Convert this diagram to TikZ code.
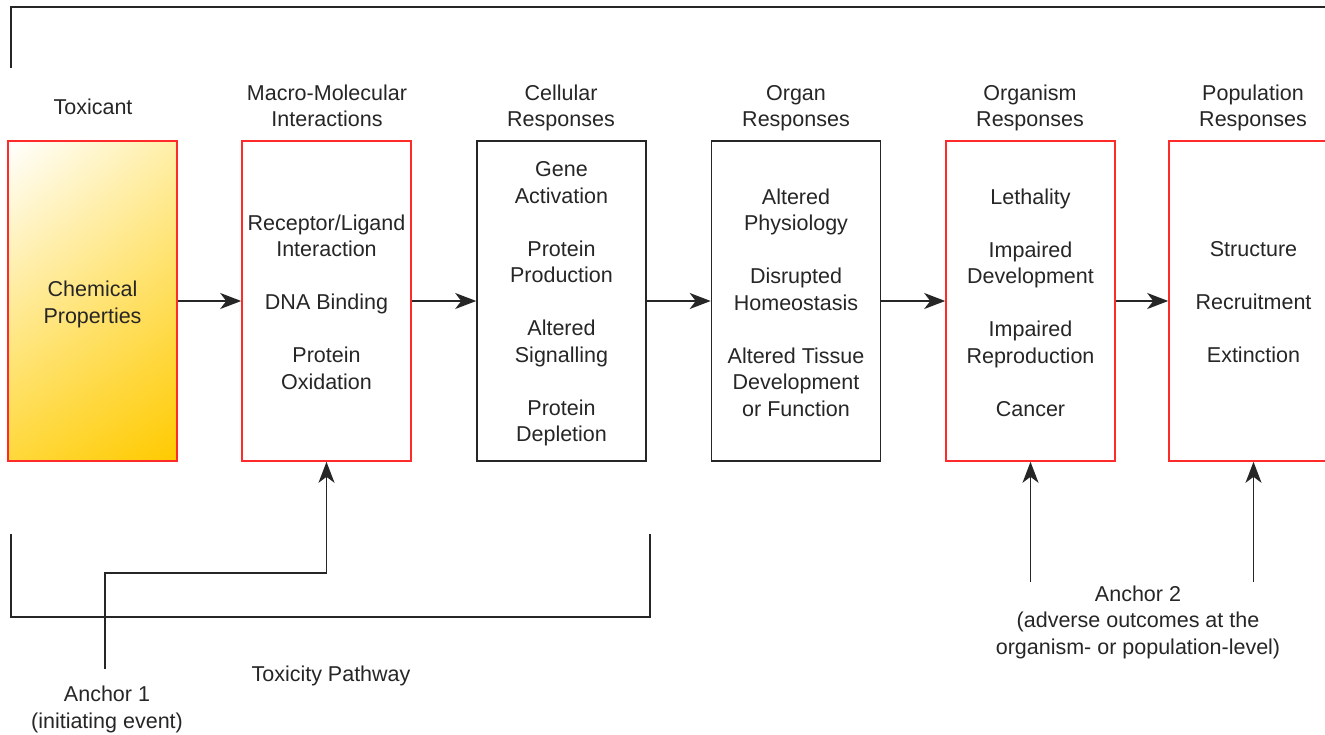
\documentclass[tikz,border=0pt]{standalone}
\usepackage{fontspec}
\setmainfont{Liberation Sans}
\usetikzlibrary{arrows.meta,shadings}
\definecolor{boxred}{HTML}{FF2B2B}
\definecolor{ink}{HTML}{262626}
\definecolor{goldA}{HTML}{FFEFA8}
\definecolor{goldB}{HTML}{FFD83A}
\definecolor{goldC}{HTML}{FFCA00}
\tikzset{
  lbl/.style={font=\fontsize{21.5}{26.5}\selectfont, align=center, inner sep=0pt, text=ink},
  stagebox/.style={draw, line width=1.6pt, minimum width=169pt, minimum height=320pt, inner sep=0pt},
  redbox/.style={stagebox, draw=boxred},
  blackbox/.style={stagebox, draw=ink},
  arr/.style={draw=ink, line width=1.7pt, -{Stealth[length=21pt,width=16pt,inset=6pt]}},
  bracket/.style={draw=ink, line width=1.6pt}
}
\begin{document}
\begin{tikzpicture}[x=1pt,y=-1pt]
\clip (0,0) rectangle (1325,734);
\fill[white] (0,0) rectangle (1325,734);

% stage boxes
\node[redbox, shade, upper left=white, upper right=goldA, lower left=goldB, lower right=goldC] (b1) at (92.5,301) {};
\node[redbox] (b2) at (326.5,301) {};
\node[blackbox] (b3) at (561.5,301) {};
\node[blackbox] (b4) at (796,301) {};
\node[redbox] (b5) at (1030.5,301) {};
\node[redbox] (b6) at (1253.5,301) {};

% box contents
\node[lbl] (t1) at (92.5,304.5) {Chemical\\Properties};
\node[lbl] (t2) at (326.5,302) {Receptor/Ligand\\Interaction\\[26.5pt]DNA Binding\\[26.5pt]Protein\\Oxidation};
\node[lbl] (t3) at (561.5,304) {Gene\\Activation\\[26.5pt]Protein\\Production\\[26.5pt]Altered\\Signalling\\[26.5pt]Protein\\Depletion};
\node[lbl] (t4) at (796,302.5) {Altered\\Physiology\\[26.5pt]Disrupted\\Homeostasis\\[26.5pt]Altered Tissue\\Development\\or Function};
\node[lbl] (t5) at (1030.5,302.5) {Lethality\\[26.5pt]Impaired\\Development\\[26.5pt]Impaired\\Reproduction\\[26.5pt]Cancer};
\node[lbl] (t6) at (1253.5,302.5) {Structure\\[26.5pt]Recruitment\\[26.5pt]Extinction};

% headers
\node[lbl] (h1) at (93,106.5) {Toxicant};
\node[lbl] (h2) at (327,106) {Macro-Molecular\\Interactions};
\node[lbl] (h3) at (561,108) {Cellular\\Responses};
\node[lbl] (h4) at (796,108) {Organ\\Responses};
\node[lbl] (h5) at (1030,108) {Organism\\Responses};
\node[lbl] (h6) at (1253,108) {Population\\Responses};

% flow arrows
\draw[arr] (b1.east) -- (b2.west);
\draw[arr] (b2.east) -- (b3.west);
\draw[arr] (b3.east) -- (b4.west);
\draw[arr] (b4.east) -- (b5.west);
\draw[arr] (b5.east) -- (b6.west);

% top bracket
\coordinate (tb1) at (11,68);
\coordinate (tb2) at (1340,7);
\draw[bracket] (tb1) |- (tb2);

% toxicity pathway bracket
\coordinate (pb1) at (11,534);
\coordinate (pb2) at (650,534);
\draw[bracket] (pb1) -- (11,617) -- (650,617) -- (pb2);
\node[lbl] (tp) at (331,675.5) {Toxicity Pathway};

% anchor 1
\node[lbl] (a1) at (107,709.5) {Anchor 1\\(initiating event)};
\coordinate (a1s) at (105,669);
\draw[arr] (a1s) |- (326.5,573) -- (b2.south);

% anchor 2
\node[lbl] (a2) at (1138,622) {Anchor 2\\(adverse outcomes at the\\organism- or population-level)};
\coordinate (a2l) at (1030.5,582);
\coordinate (a2r) at (1253.5,582);
\draw[arr] (a2l) -- (b5.south);
\draw[arr] (a2r) -- (b6.south);
\end{tikzpicture}
\end{document}
